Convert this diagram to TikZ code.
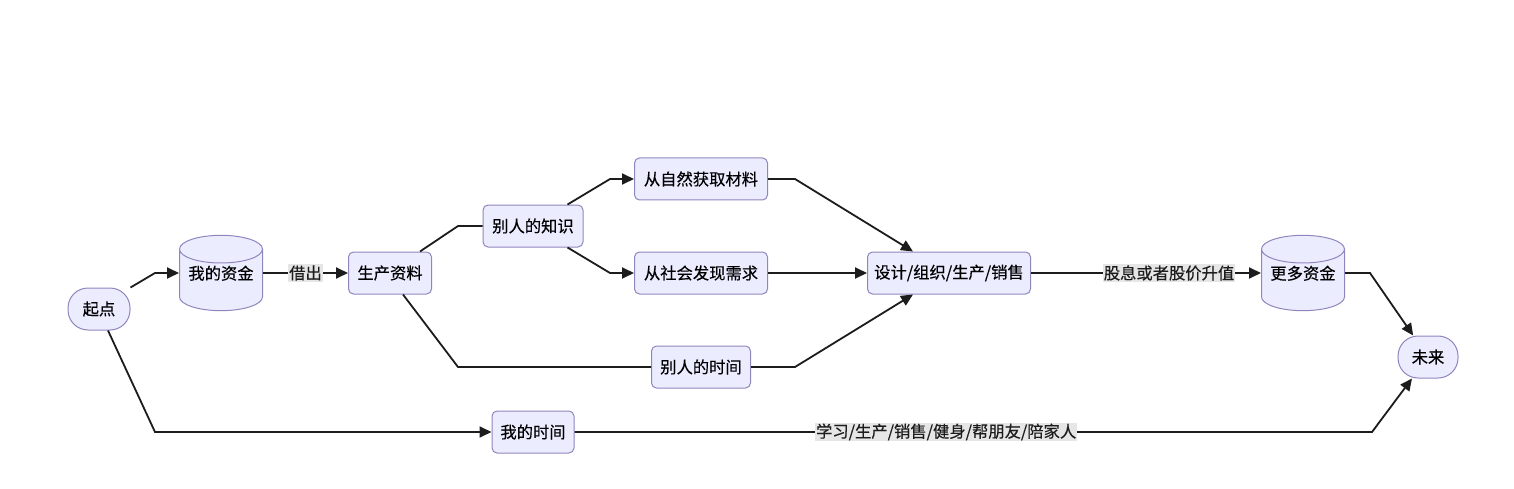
\documentclass[tikz,border=0pt]{standalone}
\usepackage{fontspec}
\setmainfont[FakeBold=0.3]{Noto Sans CJK SC}
\usepackage{xcolor}
\usepackage{tikz}
\usetikzlibrary{arrows.meta,shapes.geometric}
\definecolor{nodec}{HTML}{ECECFF}
\definecolor{edgec}{HTML}{8F86BE}
\definecolor{linec}{HTML}{1C1C1C}
\definecolor{labc}{HTML}{E6E6E6}
\tikzset{
  ar/.style={-{Triangle[length=12pt,width=11pt]},line width=1.8pt,linec},
  ln/.style={line width=1.8pt,linec},
  box/.style={draw=edgec,line width=1pt,rounded corners=5pt,fill=nodec,align=center,
    minimum height=42pt,inner sep=4pt,font=\fontsize{16.3}{18}\selectfont},
  pill/.style={box,rounded corners=20pt},
  dbase/.style={cylinder,shape border rotate=90,aspect=0.4,draw=edgec,line width=1pt,
    fill=nodec,minimum width=83pt,minimum height=71pt,inner sep=2pt,anchor=shape center,
    text height=14pt,text depth=19.6pt,font=\fontsize{16.3}{18}\selectfont},
  elab/.style={fill=labc,inner sep=1pt,font=\fontsize{16.3}{18}\selectfont}
}
\begin{document}
\begin{tikzpicture}[x=1pt,y=1pt]
\useasboundingbox (0,0) rectangle (1514,488);
% nodes
\node[pill,minimum width=62pt] (qd) at (99,179) {起点};
\node[dbase] (zj) at (221,215) {我的资金};
\node[box,minimum width=83pt] (sc) at (390,215) {生产资料};
\node[box,minimum width=100pt] (zs) at (533,262) {别人的知识};
\node[box,minimum width=133pt] (zr) at (701,309) {从自然获取材料};
\node[box,minimum width=133pt] (xq) at (701,215) {从社会发现需求};
\node[box,minimum width=99pt] (sjs) at (701,121) {别人的时间};
\node[box,minimum width=163pt] (sj) at (949,215) {设计/组织/生产/销售};
\node[dbase] (gd) at (1303,215) {更多资金};
\node[pill,minimum width=60pt] (wl) at (1428,131) {未来};
\node[box,minimum width=82pt] (ws) at (533,56) {我的时间};
% edges
\draw[ar] (qd.north east) -- (155,215) -- (zj.shape center -| zj.west);
\draw[ar] (zj.shape center -| zj.east) -- node[elab]{借出} (sc);
\draw[ln] ([xshift=-12pt]sc.north east) -- (458,262) -- (zs);
\draw[ar] ([xshift=-16pt]zs.north east) -- (610,309) -- (zr);
\draw[ar] ([xshift=-16pt]zs.south east) -- (610,215) -- (xq);
\draw[ln] ([xshift=13pt]sc.south) -- (458,121) -- (sjs);
\draw[ar] (zr) -- (795,309) -- ([xshift=-36pt]sj.north);
\draw[ar] (xq) -- (sj);
\draw[ar] (sjs) -- (795,121) -- ([xshift=-36pt]sj.south);
\draw[ar] (sj) -- node[elab,pos=0.6]{股息或者股价升值} (gd.shape center -| gd.west);
\draw[ar] (gd.shape center -| gd.east) -- (1370,215) -- (wl);
\draw[ar] ([xshift=9pt]qd.south) -- (155,56) -- (ws);
\draw[ar] (ws) -- node[elab,pos=0.466]{学习/生产/销售/健身/帮朋友/陪家人} (1372,56) -- (wl);
\end{tikzpicture}
\end{document}
